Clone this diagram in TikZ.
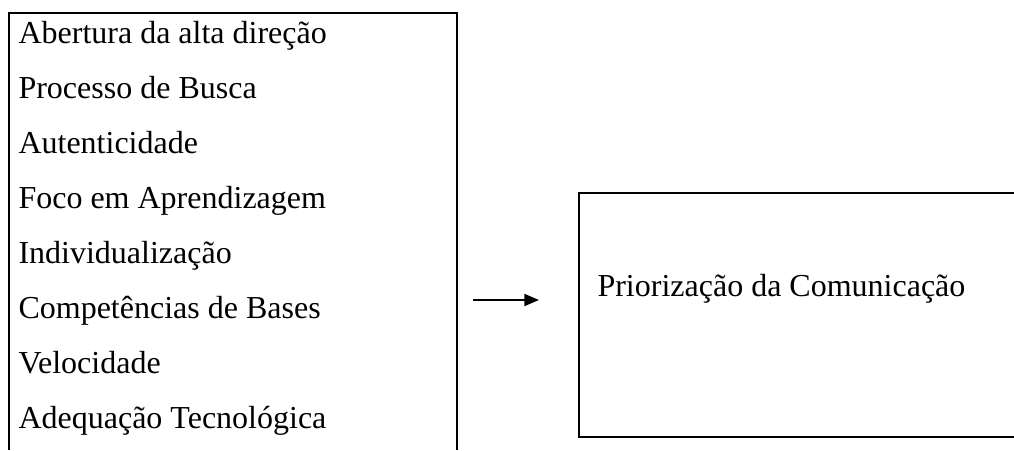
\documentclass[tikz,border=0pt]{standalone}
\usepackage{fontspec}
\setmainfont{Liberation Serif}
\usetikzlibrary{arrows.meta}
\begin{document}
\begin{tikzpicture}[x=0.375pt,y=-0.375pt,
  frame/.style={line width=0.75pt},
  item/.style={anchor=base west,inner sep=0pt,font=\fontsize{12}{14}\selectfont},
  conn/.style={line width=0.75pt,-{Triangle[length=5.5pt,width=4.5pt]}}]
\useasboundingbox (0,0) rectangle (1014,450);
% left list box (open at bottom)
\coordinate (lbl) at (8.5,450);
\coordinate (ltl) at (8.5,13);
\coordinate (ltr) at (457,13);
\coordinate (lbr) at (457,450);
\draw[frame] (lbl) -- (ltl) -- (ltr) -- (lbr);
\node[item] (i1) at (18,43) {Abertura da alta direção};
\node[item] (i2) at (18,98) {Processo de Busca};
\node[item] (i3) at (18,153) {Autenticidade};
\node[item] (i4) at (18,208) {Foco em Aprendizagem};
\node[item] (i5) at (18,263) {Individualização};
\node[item] (i6) at (18,318) {Competências de Bases};
\node[item] (i7) at (18,373) {Velocidade};
\node[item] (i8) at (18,428) {Adequação Tecnológica};
% right box (open at right)
\coordinate (rtr) at (1014,193);
\coordinate (rtl) at (579,193);
\coordinate (rbl) at (579,437);
\coordinate (rbr) at (1014,437);
\draw[frame] (rtr) -- (rtl) -- (rbl) -- (rbr);
\node[item] (p) at (597,296) {Priorização da Comunicação};
% arrow
\coordinate (a0) at (473,300);
\coordinate (a1) at (539,300);
\draw[conn] (a0) -- (a1);
\end{tikzpicture}
\end{document}
